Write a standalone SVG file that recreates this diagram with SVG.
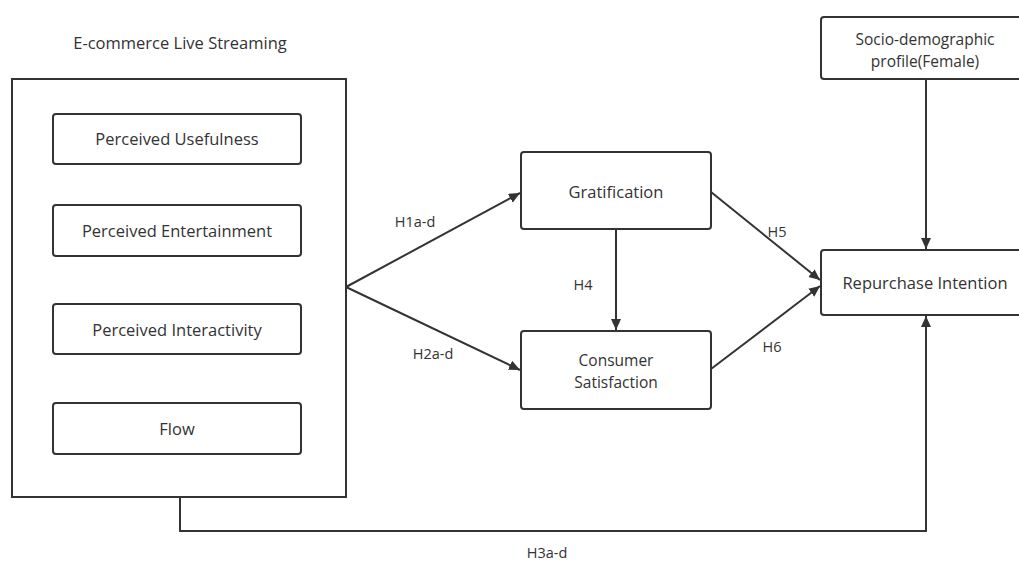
<svg xmlns="http://www.w3.org/2000/svg" width="1019" height="563" viewBox="0 0 1019 563">
<defs>
<style>
.box{fill:#fff;stroke:#333;stroke-width:2}
.t{font-family:"Open Sans","Noto Sans",sans-serif;font-size:16.5px;fill:#333;text-anchor:middle}
.t2{font-family:"Open Sans","Noto Sans",sans-serif;font-size:15.5px;fill:#333;text-anchor:middle}
.h{font-family:"Open Sans","Noto Sans",sans-serif;font-size:14.5px;fill:#333;text-anchor:middle}
.c{fill:none;stroke:#333;stroke-width:2}
</style>
<marker id="a" markerWidth="12" markerHeight="12" refX="11" refY="5" orient="auto" markerUnits="userSpaceOnUse">
<path d="M0,0 L11,5 L0,10 z" fill="#333"/>
</marker>
</defs>
<rect width="1019" height="563" fill="#fff"/>
<text class="t" x="180" y="49">E-commerce Live Streaming</text>
<g id="ecls">
<rect class="box" x="12" y="79" width="334" height="418"/>
</g>
<g id="pu"><rect class="box" x="53" y="114" width="248" height="50" rx="3"/><text class="t" x="177" y="145">Perceived Usefulness</text></g>
<g id="pe"><rect class="box" x="53" y="205" width="248" height="51" rx="3"/><text class="t" x="177" y="237">Perceived Entertainment</text></g>
<g id="pi"><rect class="box" x="53" y="304" width="248" height="50" rx="3"/><text class="t" x="177" y="336">Perceived Interactivity</text></g>
<g id="flow"><rect class="box" x="53" y="403" width="248" height="51" rx="3"/><text class="t" x="177" y="435">Flow</text></g>
<g id="grat"><rect class="box" x="521" y="152" width="190" height="77" rx="3"/><text class="t" x="616" y="198">Gratification</text></g>
<g id="cs"><rect class="box" x="521" y="331" width="190" height="78" rx="3"/><text class="t2" x="616" y="366"><tspan x="616">Consumer</tspan><tspan x="616" dy="21.5">Satisfaction</tspan></text></g>
<g id="socio"><rect class="box" x="821" y="17" width="210" height="62" rx="3"/><text class="t2" x="925" y="45"><tspan x="925">Socio-demographic</tspan><tspan x="925" dy="21.5">profile(Female)</tspan></text></g>
<g id="ri"><rect class="box" x="821" y="250" width="210" height="65" rx="3"/><text class="t" x="925" y="289">Repurchase Intention</text></g>
<g id="connectors">
<path class="c" d="M346,287 L520,193" marker-end="url(#a)"/>
<path class="c" d="M346,287 L520,370" marker-end="url(#a)"/>
<path class="c" d="M616,229 L616,330" marker-end="url(#a)"/>
<path class="c" d="M711,192 L820,280" marker-end="url(#a)"/>
<path class="c" d="M711,369 L820,286" marker-end="url(#a)"/>
<path class="c" d="M926,79 L926,249" marker-end="url(#a)"/>
<path class="c" d="M180,497 L180,531 L926,531 L926,316" marker-end="url(#a)"/>
<text class="h" x="415" y="227">H1a-d</text>
<text class="h" x="433" y="359">H2a-d</text>
<text class="h" x="583" y="290">H4</text>
<text class="h" x="777" y="237">H5</text>
<text class="h" x="772" y="352">H6</text>
<text class="h" x="547" y="558">H3a-d</text>
</g>
</svg>
